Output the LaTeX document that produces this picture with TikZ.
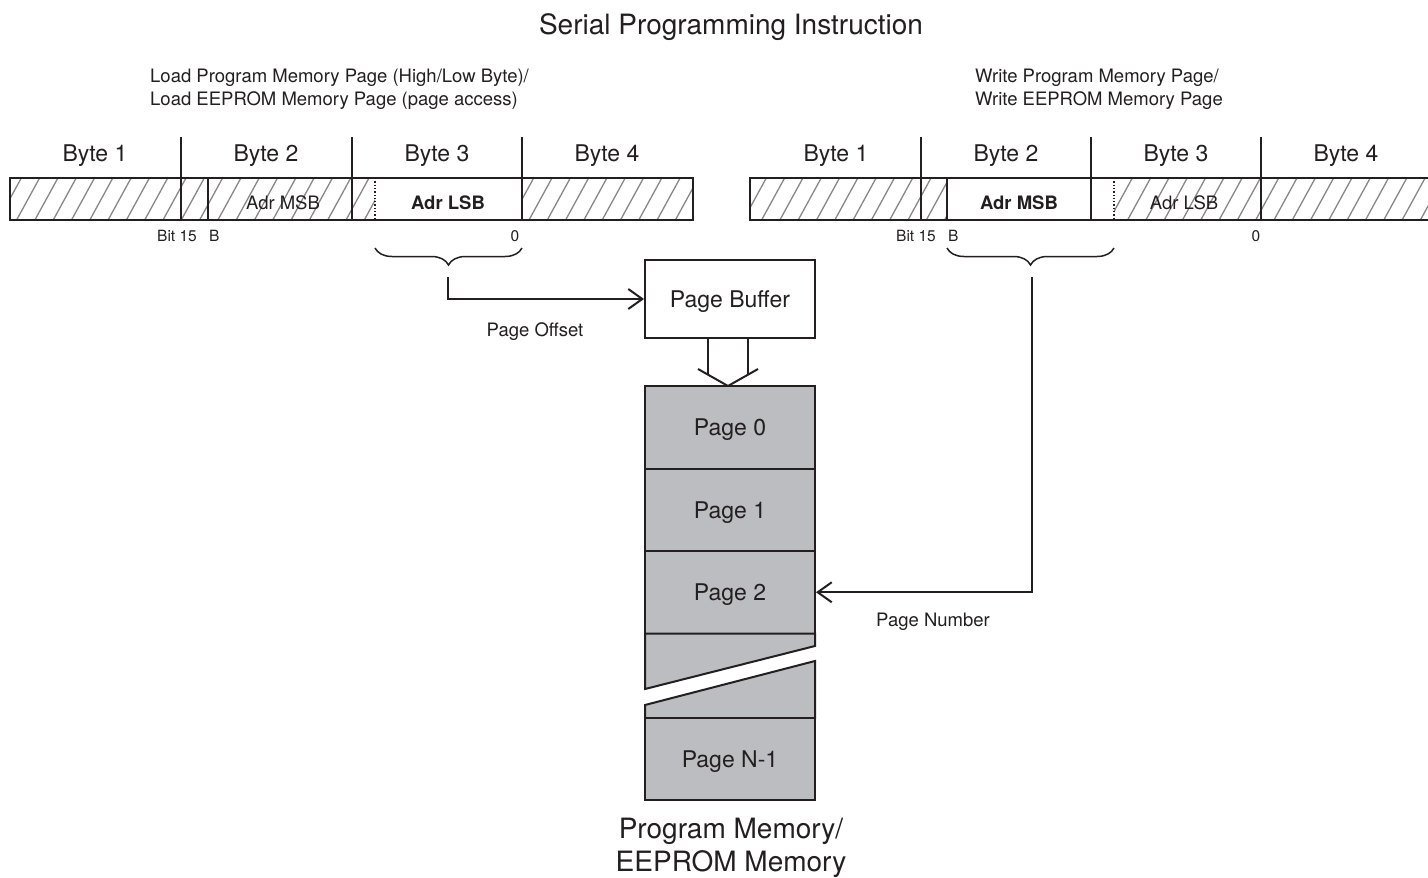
\documentclass[tikz,border=0pt]{standalone}
\usepackage{fontspec}
\setmainfont{TeX Gyre Heros}
\usetikzlibrary{arrows.meta,decorations.pathreplacing}
\definecolor{ink}{HTML}{231F20}
\definecolor{pagegray}{HTML}{BCBDC0}
\definecolor{hatchgray}{HTML}{878787}

\tikzset{
  frame/.style={draw=ink, line width=2pt},
  hatch/.style={draw=hatchgray, line width=1.3pt},
  huge/.style={font=\fontsize{28}{33}\selectfont, text=ink, align=center, yshift=-3pt},
  big/.style={font=\fontsize{23}{27}\selectfont, text=ink, yshift=-2.5pt},
  small/.style={font=\fontsize{18.5}{23}\selectfont, text=ink, yshift=-2.5pt},
  tiny/.style={font=\fontsize{15.5}{18}\selectfont, text=ink, inner sep=0pt, yshift=-1pt},
  page/.style={frame, fill=pagegray, minimum width=170pt, inner sep=0pt,
    font=\fontsize{23}{27}\selectfont, text=ink, text depth=0pt},
  barb/.style={-{Straight Barb[length=14pt,width=20pt]}},
  curly/.style={draw=ink, line width=1.5pt, decorate, decoration={brace, mirror, amplitude=17pt}},
}

\begin{document}
\begin{tikzpicture}[x=1pt, y=-1pt]
  \useasboundingbox (0,0) rectangle (1428,878);

  \node[huge] (title) at (731,24) {Serial Programming Instruction};
  \node[small, align=left, anchor=west, inner sep=0pt] (capL) at (150,86.5)
    {Load Program Memory Page (High/Low Byte)/\\Load EEPROM Memory Page (page access)};
  \node[small, align=left, anchor=west, inner sep=0pt] (capR) at (975,86.5)
    {Write Program Memory Page/\\Write EEPROM Memory Page};

  % left instruction
  \begin{scope}
    \clip (10,178) rectangle (375,220) (522,178) rectangle (693,220);
    \foreach \x in {-20,-1.7,...,700} \draw[hatch] (\x,220) -- ++(23,-42);
  \end{scope}
  \draw[frame] (10,178) rectangle (693,220);
  \foreach \x in {181,352,522} \draw[frame] (\x,137) -- (\x,220);
  \draw[frame] (208,178) -- (208,220);
  \draw[draw=ink, dotted, line width=1.3pt] (375,178) -- (375,220);
  \foreach \x/\n in {95/1,266/2,437/3,607/4} \node[big] (byteL\n) at (\x,153) {Byte \n};
  \node[small] (msbL) at (283,200) {Adr MSB};
  \node[small] (lsbL) at (448,200) {\bfseries Adr LSB};
  \node[tiny, anchor=east] (bitL) at (197,235) {Bit 15};
  \node[tiny, anchor=west] (bL) at (209,235) {B};
  \node[tiny] (zeroL) at (515,235) {0};
  \draw[curly] (375,248) -- (522,248);
  \coordinate (offA) at (448,277);

  % right instruction
  \begin{scope}
    \clip (750,178) rectangle (947,220) (1114,178) rectangle (1428,220);
    \foreach \x in {725,743.3,...,1440} \draw[hatch] (\x,220) -- ++(23,-42);
  \end{scope}
  \draw[frame] (1428,178) -- (750,178) -- (750,220) -- (1428,220);
  \foreach \x in {921,1091,1261} \draw[frame] (\x,137) -- (\x,220);
  \draw[frame] (947,178) -- (947,220);
  \draw[draw=ink, dotted, line width=1.3pt] (1114,178) -- (1114,220);
  \foreach \x/\n in {836/1,1006/2,1176/3,1346/4} \node[big] (byteR\n) at (\x,153) {Byte \n};
  \node[small] (msbR) at (1019,200) {\bfseries Adr MSB};
  \node[small] (lsbR) at (1184,200) {Adr LSB};
  \node[tiny, anchor=east] (bitR) at (936,235) {Bit 15};
  \node[tiny, anchor=west] (bR) at (948,235) {B};
  \node[tiny] (zeroR) at (1256,235) {0};
  \draw[curly] (947,248) -- (1114,248);
  \coordinate (numA) at (1032,277);

  % buffer and memory
  \node[page, fill=white, minimum height=78pt] (buf) at (730,299) {Page Buffer};
  \draw[frame] (708,338) -- (708,374.7);
  \draw[frame] (748,338) -- (748,374.7);
  \draw[frame, line join=miter] (698,369) -- (728,386) -- (758,369);

  \node[page, minimum height=82.5pt] (pg0) at (730,427.25) {Page 0};
  \node[page, minimum height=82.5pt] (pg1) at (730,509.75) {Page 1};
  \node[page, minimum height=82.5pt] (pg2) at (730,592.25) {Page 2};
  \draw[frame, fill=pagegray] (645,633.5) -- (815,633.5) -- (815,646) -- (645,689) -- cycle;
  \draw[frame, fill=pagegray] (645,705) -- (815,661) -- (815,718) -- (645,718) -- cycle;
  \node[page, minimum height=82pt] (pgN) at (730,759) {Page N-1};
  \node[huge] (mem) at (731,845) {Program Memory/\\EEPROM Memory};

  \draw[frame, barb] (offA) |- (buf.west);
  \node[small] (offL) at (535,329) {Page Offset};
  \draw[frame, barb] (numA) |- (pg2.east);
  \node[small] (numL) at (933,619) {Page Number};
\end{tikzpicture}
\end{document}
